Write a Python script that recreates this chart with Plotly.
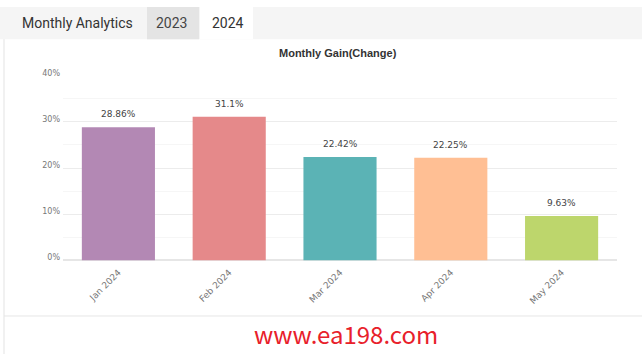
import plotly.graph_objects as go

months = ["Jan 2024", "Feb 2024", "Mar 2024", "Apr 2024", "May 2024"]
gains = [28.86, 31.1, 22.42, 22.25, 9.63]
labels = ["28.86%", "31.1%", "22.42%", "22.25%", "9.63%"]
colors = ["#b388b4", "#e5898a", "#5bb3b5", "#ffbf94", "#bdd66c"]
tick_vals = [0, 10, 20, 30, 40]
tick_text = ["0%", "10%", "20%", "30%", "40%"]

W, H = 642, 356
def px(x):
    return x / W
def py(y):
    return 1 - y / H

fig = go.Figure()
fig.add_trace(go.Bar(
    x=months, y=gains, marker=dict(color=colors, line=dict(width=0)),
    hoverinfo="skip",
))

shapes = [
    dict(type="rect", xref="paper", yref="paper", x0=0, x1=1, y0=py(33), y1=1,
         fillcolor="#f5f5f5", line=dict(width=0), layer="below"),
    dict(type="rect", xref="paper", yref="paper", x0=px(147), x1=px(199), y0=py(33), y1=1,
         fillcolor="#e4e4e4", line=dict(width=0), layer="below"),
    dict(type="rect", xref="paper", yref="paper", x0=px(200), x1=px(253), y0=py(33), y1=1,
         fillcolor="#ffffff", line=dict(width=0), layer="below"),
    dict(type="line", xref="paper", yref="paper", x0=px(4), x1=px(4), y0=0, y1=py(33),
         line=dict(color="#e3e3e3", width=1)),
    dict(type="line", xref="paper", yref="paper", x0=px(4), x1=1, y0=py(317), y1=py(317),
         line=dict(color="#e6e6e6", width=1)),
]

annotations = [
    dict(text="Monthly Analytics", x=px(20), y=py(16), xref="paper", yref="paper",
         xanchor="left", yanchor="middle", showarrow=False,
         font=dict(family="Roboto", size=14, color="#333333")),
    dict(text="2023", x=px(172), y=py(16), xref="paper", yref="paper",
         xanchor="center", yanchor="middle", showarrow=False,
         font=dict(family="Roboto", size=14, color="#444444")),
    dict(text="2024", x=px(228), y=py(16), xref="paper", yref="paper",
         xanchor="center", yanchor="middle", showarrow=False,
         font=dict(family="Roboto", size=14, color="#333333")),
    dict(text="<b>Monthly Gain(Change)</b>", x=px(338), y=py(47), xref="paper", yref="paper",
         xanchor="center", yanchor="middle", showarrow=False,
         font=dict(family="Liberation Sans", size=11, color="#333333")),
    dict(text="www.ea198.com", x=px(346), y=py(335), xref="paper", yref="paper",
         xanchor="center", yanchor="middle", showarrow=False,
         font=dict(family="Noto Sans CJK SC", size=24, color="#e8202a")),
]

# value labels above the bars, built from the data arrays
for m, g, lab in zip(months, gains, labels):
    annotations.append(dict(
        text=lab, x=m, y=g, xref="x", yref="y", xanchor="center", yanchor="bottom",
        yshift=6, showarrow=False,
        font=dict(family="DejaVu Sans", size=9, color="#444444"),
    ))

fig.update_layout(
    width=W, height=H, margin=dict(l=0, r=0, t=0, b=0),
    paper_bgcolor="#ffffff", plot_bgcolor="#ffffff",
    showlegend=False, bargap=0.34,
    shapes=shapes, annotations=annotations,
    xaxis=dict(domain=[px(63), px(617)], tickangle=-45, showgrid=False, showline=False,
               tickfont=dict(family="DejaVu Sans", size=9, color="#777777"), ticks="",
               ticklabelstandoff=4, fixedrange=True),
    yaxis=dict(domain=[py(260), py(70.5)], range=[0, 40], tickvals=tick_vals, ticktext=tick_text,
               showgrid=True, gridcolor="#ececec", gridwidth=1, zeroline=True,
               zerolinecolor="#e6e6e6",
               minor=dict(dtick=5, showgrid=True, gridcolor="#f6f6f6"),
               tickfont=dict(family="DejaVu Sans", size=8, color="#777777"),
               ticklabelshift=-3, ticklabelstandoff=2,
               ticks="", fixedrange=True),
)

fig.write_html("out.html", config={"displayModeBar": False},
               post_script="document.body.style.margin='0';document.body.style.padding='0';")
